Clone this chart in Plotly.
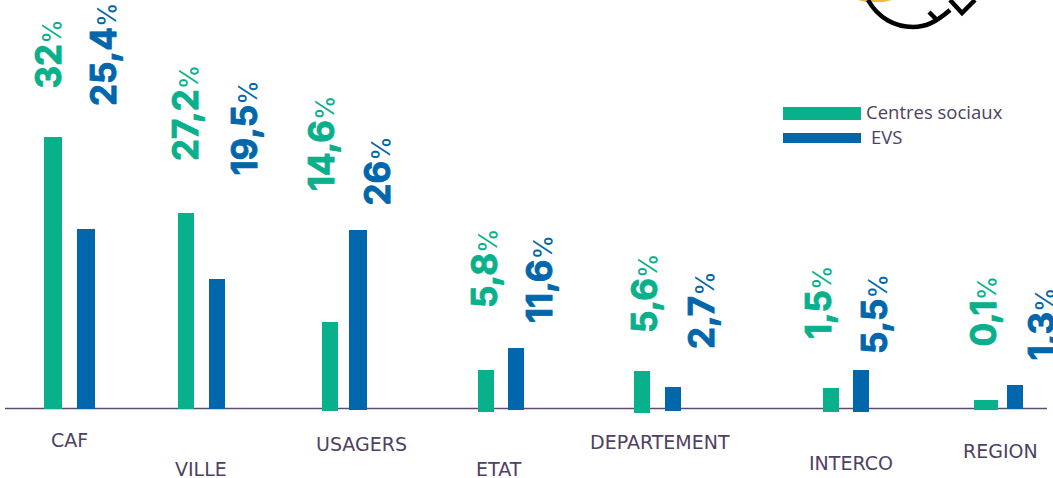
import plotly.graph_objects as go

W, H = 1053, 478

# ---- data ----
categories = ["CAF", "VILLE", "USAGERS", "ETAT", "DEPARTEMENT", "INTERCO", "REGION"]
label_centres = ["32", "27,2", "14,6", "5,8", "5,6", "1,5", "0,1"]
label_evs = ["25,4", "19,5", "26", "11,6", "2,7", "5,5", "1,3"]
# drawn bar heights (the picture's bars are not proportional to their labels)
drawn_centres = [272, 196, 89, 42, 42, 24, 10]
drawn_evs = [180, 130, 180, 62, 24, 42, 24]
series_names = ["Centres sociaux", "EVS"]

# ---- layout (pixel positions of this composition) ----
BASE = 409
GREEN, BLUE, TEXT, AXIS = "#08B08C", "#0067AC", "#4F4163", "#5E4B73"
x_centres = [53, 186, 330, 486, 642, 831, 986]
w_centres = [18, 16, 16, 16, 16, 16, 24]
off_centres = [0, 0, 2, 3, 4, 3, 1]
x_evs = [86, 217, 358, 516, 673, 861, 1015]
w_evs = [18, 16, 18, 16, 16, 16, 16]
off_evs = [0, 0, 1, 1, 2, 3, 0]
lab_x_c = [47, 185, 321, 484, 644, 818, 982]
lab_y_c = [90, 162, 192, 309, 334, 340, 348]
lab_x_e = [103, 243, 376, 539, 701, 874, 1040]
lab_y_e = [107, 177, 207, 324, 350, 355, 362]
cat_x = [69, 201, 361, 499, 660, 851, 1000]
cat_y = [440, 469, 444, 469, 442, 463, 451]

fig = go.Figure()
fig.add_trace(go.Bar(x=x_centres, y=drawn_centres, width=w_centres,
                     base=[BASE + o - h for o, h in zip(off_centres, drawn_centres)],
                     marker=dict(color=GREEN, line_width=0), name=series_names[0],
                     showlegend=False, hoverinfo="skip"))
fig.add_trace(go.Bar(x=x_evs, y=drawn_evs, width=w_evs,
                     base=[BASE + o - h for o, h in zip(off_evs, drawn_evs)],
                     marker=dict(color=BLUE, line_width=0), name=series_names[1],
                     showlegend=False, hoverinfo="skip"))

LABEL_FONT = "Inter, Roboto, Liberation Sans"
for labels, xs, ys, col in ((label_centres, lab_x_c, lab_y_c, GREEN),
                            (label_evs, lab_x_e, lab_y_e, BLUE)):
    for t, x, y in zip(labels, xs, ys):
        fig.add_annotation(x=x, y=y, xref="x", yref="y", xanchor="center", yanchor="bottom",
                           text=(f'<span style="stroke:{col};stroke-width:0.9px"><b>{t}</b></span>'
                                 f'<span style="font-size:25px">%</span>'),
                           textangle=-90, showarrow=False, borderpad=0,
                           font=dict(family=LABEL_FONT, size=35, color=col))

for c, x, y in zip(categories, cat_x, cat_y):
    fig.add_annotation(x=x, y=y, xref="x", yref="y", xanchor="center", yanchor="middle",
                       text=c, showarrow=False,
                       font=dict(family="DejaVu Sans", size=19, color=TEXT))

# axis line and legend
fig.add_shape(type="line", x0=5, x1=1047, y0=408.5, y1=408.5, line=dict(color=AXIS, width=1.5), layer="below")
fig.add_shape(type="rect", x0=783, x1=861, y0=107, y1=120, fillcolor=GREEN, line_width=0)
fig.add_shape(type="rect", x0=783, x1=861, y0=133, y1=143, fillcolor=BLUE, line_width=0)
fig.add_annotation(x=864, y=111, xref="x", yref="y", xanchor="left", yanchor="middle",
                   text=series_names[0], showarrow=False,
                   font=dict(family="Open Sans", size=18.5, color=TEXT))
fig.add_annotation(x=869, y=136, xref="x", yref="y", xanchor="left", yanchor="middle",
                   text=series_names[1], showarrow=False,
                   font=dict(family="Open Sans", size=18.5, color=TEXT))

# clipped logo at the top
fig.add_shape(type="path", path="M 858 0 L 892 0 L 884 2 L 866 2 Z", fillcolor="#F0B93A", line_width=0)
fig.add_shape(type="path", path="M 868 0 C 878 18 895 27 913 27 C 925 27 935 23 950 10",
              line=dict(color="black", width=4.5), fillcolor="rgba(0,0,0,0)")
fig.add_shape(type="path", path="M 929 12 L 938 21", line=dict(color="black", width=4.5))
fig.add_shape(type="path", path="M 950 0 L 962 13 L 975 0",
              line=dict(color="black", width=4.5), fillcolor="rgba(0,0,0,0)")

fig.update_layout(
    width=W, height=H, margin=dict(l=0, r=0, t=0, b=0), autosize=False,
    paper_bgcolor="white", plot_bgcolor="white", barmode="overlay", showlegend=False,
    xaxis=dict(range=[0, W], visible=False, fixedrange=True),
    yaxis=dict(range=[H, 0], visible=False, fixedrange=True),
)
fig.write_html("out.html", config={"displayModeBar": False},
               post_script="document.body.style.margin='0';document.documentElement.style.overflow='hidden';")
